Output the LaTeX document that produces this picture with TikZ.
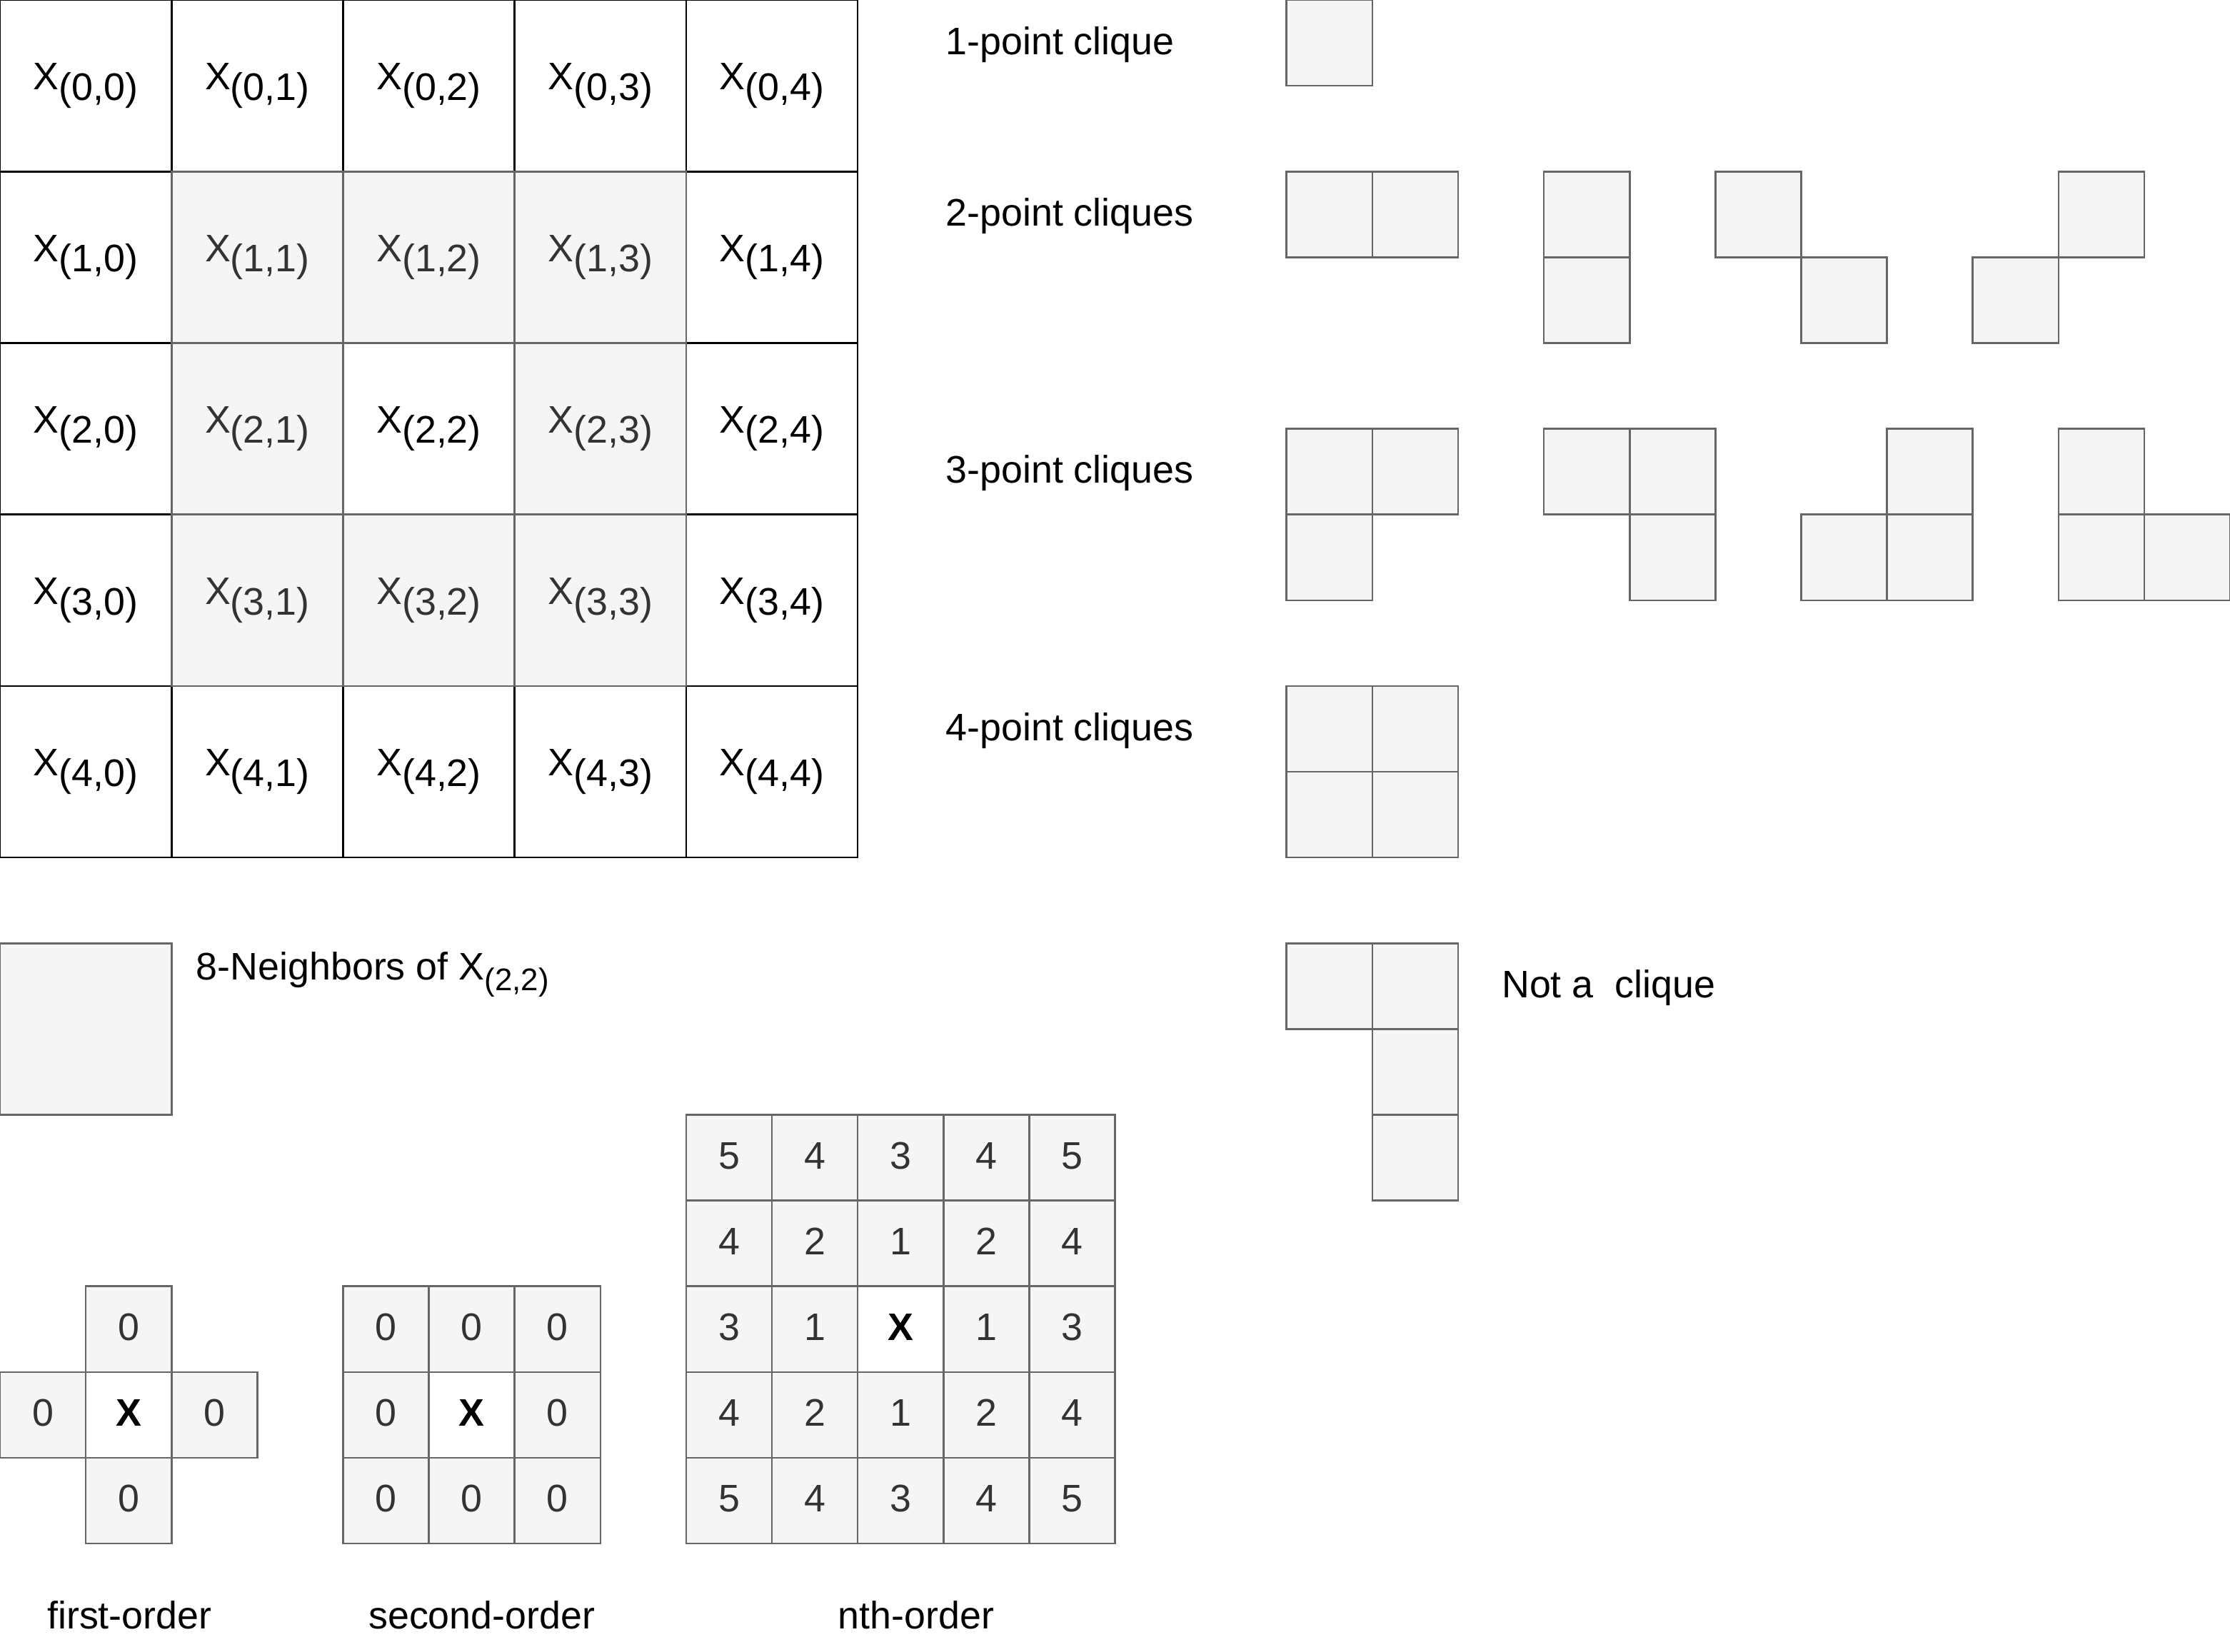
\documentclass[tikz,border=0pt]{standalone}
\usepackage{fontspec}
\setmainfont{Liberation Sans}
\definecolor{cellfill}{HTML}{F5F5F5}
\definecolor{cellline}{HTML}{666666}
\definecolor{celltext}{HTML}{333333}
\newcommand\mainfs{\fontsize{13.5pt}{16pt}\selectfont}
\newcommand\Xsub[1]{X\raisebox{-0.27em}{(#1)}}
\newcommand\Xsmallsub[1]{X\raisebox{-3.75pt}{\fontsize{11pt}{12pt}\selectfont(#1)}}
\begin{document}
\begin{tikzpicture}[x=30.15pt,y=-30.15pt,
  bigwhite/.style={draw=black, fill=white, line width=0.65pt, minimum width=60.3pt, minimum height=60.3pt, inner sep=0pt, outer sep=0pt, font=\mainfs, text=black},
  biggray/.style={bigwhite, draw=cellline, fill=cellfill, text=celltext},
  smallgray/.style={draw=cellline, fill=cellfill, line width=0.65pt, minimum width=30.15pt, minimum height=30.15pt, inner sep=0pt, outer sep=0pt, font=\mainfs, text=celltext, text depth=1.5pt},
  smallwhite/.style={smallgray, fill=white, text=black, font=\mainfs\bfseries},
  lbl/.style={anchor=base west, inner sep=0pt, outer sep=0pt, font=\mainfs, text=black},
  caplbl/.style={lbl, anchor=base}]
\useasboundingbox (0,0) rectangle (26,19.257);
% main 5x5 grid
\foreach \r/\c in {0/0,0/1,0/2,0/3,0/4,1/0,1/4,2/0,2/2,2/4,3/0,3/4,4/0,4/1,4/2,4/3,4/4}
  \node[bigwhite] (g\r\c) at ({2*\c+1},{2*\r+1}) {\Xsub{\r,\c}};
\foreach \r/\c in {1/1,1/2,1/3,2/1,2/3,3/1,3/2,3/3}
  \node[biggray] (g\r\c) at ({2*\c+1},{2*\r+1}) {\Xsub{\r,\c}};
% legend box
\node[biggray] (nbbox) at (1,12) {};
\node[lbl] (nblbl) at (2.289,11.43) {8-Neighbors of \Xsmallsub{2,2}};
% clique labels
\node[lbl] (l1) at (11.028,0.635) {1-point clique};
\node[lbl] (l2) at (11.028,2.635) {2-point cliques};
\node[lbl] (l3) at (11.028,5.635) {3-point cliques};
\node[lbl] (l4) at (11.028,8.635) {4-point cliques};
\node[lbl] (l5) at (17.51,11.635) {Not a\ \ clique};
% 1-point
\node[smallgray] (p1a) at (15.5,0.5) {};
% 2-point
\node[smallgray] (p2a1) at (15.5,2.5) {};
\node[smallgray] (p2a2) at (16.5,2.5) {};
\node[smallgray] (p2b1) at (18.5,2.5) {};
\node[smallgray] (p2b2) at (18.5,3.5) {};
\node[smallgray] (p2c1) at (20.5,2.5) {};
\node[smallgray] (p2c2) at (21.5,3.5) {};
\node[smallgray] (p2d1) at (24.5,2.5) {};
\node[smallgray] (p2d2) at (23.5,3.5) {};
% 3-point
\node[smallgray] (p3a1) at (15.5,5.5) {};
\node[smallgray] (p3a2) at (16.5,5.5) {};
\node[smallgray] (p3a3) at (15.5,6.5) {};
\node[smallgray] (p3b1) at (18.5,5.5) {};
\node[smallgray] (p3b2) at (19.5,5.5) {};
\node[smallgray] (p3b3) at (19.5,6.5) {};
\node[smallgray] (p3c1) at (22.5,5.5) {};
\node[smallgray] (p3c2) at (21.5,6.5) {};
\node[smallgray] (p3c3) at (22.5,6.5) {};
\node[smallgray] (p3d1) at (24.5,5.5) {};
\node[smallgray] (p3d2) at (24.5,6.5) {};
\node[smallgray] (p3d3) at (25.5,6.5) {};
% 4-point
\node[smallgray] (p4a) at (15.5,8.5) {};
\node[smallgray] (p4b) at (16.5,8.5) {};
\node[smallgray] (p4c) at (15.5,9.5) {};
\node[smallgray] (p4d) at (16.5,9.5) {};
% not a clique
\node[smallgray] (nca) at (15.5,11.5) {};
\node[smallgray] (ncb) at (16.5,11.5) {};
\node[smallgray] (ncc) at (16.5,12.5) {};
\node[smallgray] (ncd) at (16.5,13.5) {};
% first-order
\node[smallgray] (f1) at (1.5,15.5) {0};
\node[smallgray] (f2) at (0.5,16.5) {0};
\node[smallwhite] (fx) at (1.5,16.5) {X};
\node[smallgray] (f3) at (2.5,16.5) {0};
\node[smallgray] (f4) at (1.5,17.5) {0};
% second-order
\foreach \r in {0,1,2} \foreach \c in {0,1,2} {
  \ifnum\r=1 \ifnum\c=1 \else
    \node[smallgray] (s\r\c) at ({4.5+\c},{15.5+\r}) {0};
  \fi \else
    \node[smallgray] (s\r\c) at ({4.5+\c},{15.5+\r}) {0};
  \fi
}
\node[smallwhite] (s11) at (5.5,16.5) {X};
% nth-order
\foreach \r/\row in {0/{5,4,3,4,5},1/{4,2,1,2,4},2/{3,1,x,1,3},3/{4,2,1,2,4},4/{5,4,3,4,5}} {
  \foreach \v [count=\c from 0] in \row {
    \if x\v
      \node[smallwhite] (n\r\c) at ({8.5+\c},{13.5+\r}) {X};
    \else
      \node[smallgray] (n\r\c) at ({8.5+\c},{13.5+\r}) {\v};
    \fi
  }
}
% captions
\node[caplbl] (c1) at (1.509,18.99) {first-order};
\node[caplbl] (c2) at (5.617,18.99) {second-order};
\node[caplbl] (c3) at (10.68,18.99) {nth-order};
\end{tikzpicture}
\end{document}
